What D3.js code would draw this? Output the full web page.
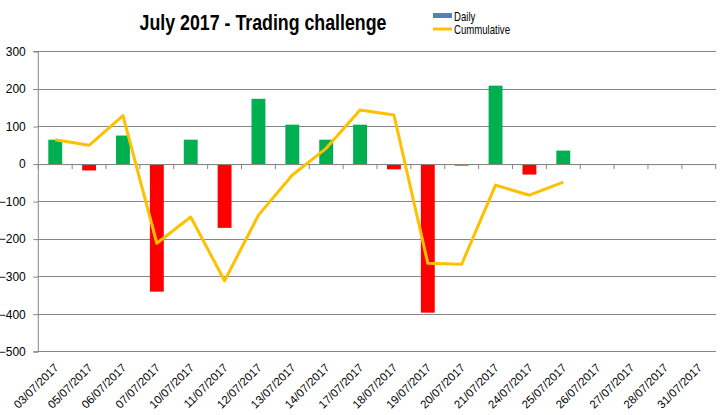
<!DOCTYPE html>
<html><head><meta charset="utf-8">
<script src="https://cdn.jsdelivr.net/npm/d3@7"></script>
<style>body{margin:0;background:#fff;} text{font-family:"Liberation Sans",Arial,sans-serif;}</style>
</head><body><svg id="c" width="724" height="415"></svg>
<script>
const categories = ["03/07/2017","05/07/2017","06/07/2017","07/07/2017","10/07/2017","11/07/2017","12/07/2017","13/07/2017","14/07/2017","17/07/2017","18/07/2017","19/07/2017","20/07/2017","21/07/2017","24/07/2017","25/07/2017","26/07/2017","27/07/2017","28/07/2017","31/07/2017"];
const daily = [65,-17,76,-340,65,-170,174,105,65,105,-14,-396,-4,209,-28,36,null,null,null,null];
const cumulative = [65,50,129,-211,-141,-311,-136,-29,42,144,131,-264,-267,-56,-83,-48,null,null,null,null];
const yTicks = [300,200,100,0,-100,-200,-300,-400,-500];

const svg = d3.select("#c");
const L = 38.3, R = 715.7, T = 51.5, B = 351.7;
const x = d3.scaleBand().domain(categories).range([L, R]).paddingInner(0.59).paddingOuter(0.295);
const xs = d3.scaleBand().domain(categories).range([L, R]);
const y = d3.scaleLinear().domain([-500, 300]).range([B, T]);

// gridlines
svg.append("g").selectAll("line").data(yTicks).join("line")
  .attr("x1", L).attr("x2", R).attr("y1", d => y(d)).attr("y2", d => y(d))
  .attr("stroke", "#868686").attr("stroke-width", 1).attr("shape-rendering","crispEdges");

// y axis
const ya = svg.append("g").attr("transform", `translate(${L},0)`)
  .call(d3.axisLeft(y).tickValues(yTicks).tickSize(5).tickPadding(7.5).tickFormat(d3.format("d")));
ya.select(".domain").attr("stroke", "#868686").attr("d", `M-5,${T}H0V${B}H-5`);
ya.selectAll("line").attr("stroke", "#868686");
ya.selectAll("text").attr("font-size", 12).attr("fill", "#000").attr("font-family","Liberation Sans, Arial, sans-serif");

// bars
svg.append("g").selectAll("rect").data(categories.map((c,i)=>({c, v: daily[i]})).filter(d => d.v !== null)).join("rect")
  .attr("x", d => x(d.c)).attr("width", x.bandwidth())
  .attr("y", d => y(Math.max(0, d.v))).attr("height", d => Math.abs(y(d.v) - y(0)))
  .attr("fill", d => d.v >= 0 ? "#00B050" : "#FF0000");

// x axis at zero
const xa = svg.append("g").attr("transform", `translate(0,${y(0)})`)
  .call(d3.axisBottom(xs).tickSize(0).tickFormat(""));
xa.select(".domain").attr("stroke", "#868686");
xa.selectAll(".tick").remove();
svg.append("g").selectAll("line").data(categories.concat(["__end"])).join("line")
  .attr("x1", (d,i) => L + i * xs.step()).attr("x2", (d,i) => L + i * xs.step())
  .attr("y1", y(0)).attr("y2", y(0) + 5).attr("stroke", "#868686");

// x labels
svg.append("g").selectAll("text").data(categories).join("text")
  .attr("transform", d => `translate(${xs(d) + xs.bandwidth()/2 + 4},${368.5}) rotate(-45)`)
  .attr("text-anchor", "end").attr("font-size", 11.5).attr("fill", "#000")
  .text(d => d);

// cumulative line
const line = d3.line().defined(d => d.v !== null)
  .x(d => xs(d.c) + xs.bandwidth()/2).y(d => y(d.v));
svg.append("path").datum(categories.map((c,i)=>({c, v: cumulative[i]})))
  .attr("d", line).attr("fill", "none").attr("stroke", "#FFC000").attr("stroke-width", 3).attr("stroke-linejoin","round");

// title
svg.append("text").attr("transform", "translate(263,29.5) scale(0.79,1)").attr("text-anchor", "middle")
  .attr("font-size", 22.5).attr("font-weight", "bold").attr("fill", "#000").text("July 2017 - Trading challenge");

// legend
const lg = svg.append("g");
lg.append("rect").attr("x", 433).attr("y", 13).attr("width", 19).attr("height", 5).attr("fill", "#4F81BD");
lg.append("text").attr("transform", "translate(454,21) scale(0.8,1)").attr("font-size", 12).attr("fill", "#000").text("Daily");
lg.append("line").attr("x1", 433).attr("x2", 452).attr("y1", 29).attr("y2", 29).attr("stroke", "#FFC000").attr("stroke-width", 3);
lg.append("text").attr("transform", "translate(454,33.5) scale(0.8,1)").attr("font-size", 12).attr("fill", "#000").text("Cummulative");
</script></body></html>
